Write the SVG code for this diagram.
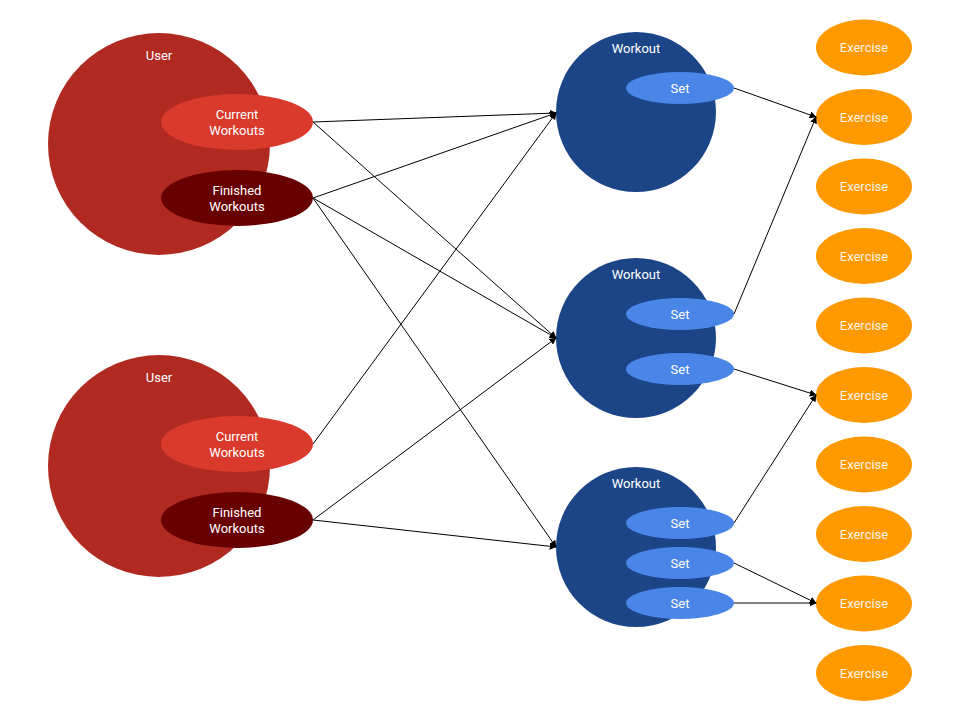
<svg xmlns="http://www.w3.org/2000/svg" width="960" height="720" viewBox="0 0 960 720">
<style>
text{font-family:Roboto,"Liberation Sans",sans-serif;font-size:13px;fill:#ffffff;text-anchor:middle}
.user{fill:#b12a22}
.cur{fill:#d93a2c}
.fin{fill:#690000}
.wk{fill:#1c4587}
.set{fill:#4a86e8}
.ex{fill:#ff9900}
.ex-t{fill:#fdf3e3}
.conn line{stroke:#000;stroke-width:1;marker-end:url(#arr)}
</style>
<defs>
<marker id="arr" viewBox="0 0 10 10" refX="9" refY="5" markerWidth="7" markerHeight="7" orient="auto" markerUnits="userSpaceOnUse">
<path d="M0,0 L10,5 L0,10 z" fill="#000"/>
</marker>
</defs>
<rect width="960" height="720" fill="#fff"/>
<g id="user1">
<circle class="user" cx="159" cy="144" r="111"/>
<text x="159" y="60">User</text>
</g>
<g id="current1">
<ellipse class="cur" cx="237" cy="122" rx="76" ry="28"/>
<text x="237" y="119">Current</text>
<text x="237" y="135">Workouts</text>
</g>
<g id="finished1">
<ellipse class="fin" cx="237" cy="198" rx="76" ry="28"/>
<text x="237" y="195">Finished</text>
<text x="237" y="211">Workouts</text>
</g>
<g id="user2">
<circle class="user" cx="159" cy="466" r="111"/>
<text x="159" y="382">User</text>
</g>
<g id="current2">
<ellipse class="cur" cx="237" cy="444" rx="76" ry="28"/>
<text x="237" y="441">Current</text>
<text x="237" y="457">Workouts</text>
</g>
<g id="finished2">
<ellipse class="fin" cx="237" cy="520" rx="76" ry="28"/>
<text x="237" y="517">Finished</text>
<text x="237" y="533">Workouts</text>
</g>
<g id="workout1">
<circle class="wk" cx="636" cy="112" r="80"/>
<text x="636" y="53">Workout</text>
</g>
<g id="set1">
<ellipse class="set" cx="680" cy="88" rx="54" ry="16"/>
<text x="680" y="93">Set</text>
</g>
<g id="workout2">
<circle class="wk" cx="636" cy="338" r="80"/>
<text x="636" y="279">Workout</text>
</g>
<g id="set2a">
<ellipse class="set" cx="680" cy="314" rx="54" ry="16"/>
<text x="680" y="319">Set</text>
</g>
<g id="set2b">
<ellipse class="set" cx="680" cy="369" rx="54" ry="16"/>
<text x="680" y="374">Set</text>
</g>
<g id="workout3">
<circle class="wk" cx="636" cy="547" r="80"/>
<text x="636" y="488">Workout</text>
</g>
<g id="set3a">
<ellipse class="set" cx="680" cy="523" rx="54" ry="16"/>
<text x="680" y="528">Set</text>
</g>
<g id="set3b">
<ellipse class="set" cx="680" cy="563" rx="54" ry="16"/>
<text x="680" y="568">Set</text>
</g>
<g id="set3c">
<ellipse class="set" cx="680" cy="603" rx="54" ry="16"/>
<text x="680" y="608">Set</text>
</g>
<g id="exercise1"><ellipse class="ex" cx="864" cy="47.5" rx="48" ry="28"/><text class="ex-t" x="864" y="52">Exercise</text></g>
<g id="exercise2"><ellipse class="ex" cx="864" cy="117" rx="48" ry="28"/><text class="ex-t" x="864" y="122">Exercise</text></g>
<g id="exercise3"><ellipse class="ex" cx="864" cy="186.5" rx="48" ry="28"/><text class="ex-t" x="864" y="191">Exercise</text></g>
<g id="exercise4"><ellipse class="ex" cx="864" cy="256" rx="48" ry="28"/><text class="ex-t" x="864" y="261">Exercise</text></g>
<g id="exercise5"><ellipse class="ex" cx="864" cy="325.5" rx="48" ry="28"/><text class="ex-t" x="864" y="330">Exercise</text></g>
<g id="exercise6"><ellipse class="ex" cx="864" cy="395" rx="48" ry="28"/><text class="ex-t" x="864" y="400">Exercise</text></g>
<g id="exercise7"><ellipse class="ex" cx="864" cy="464.5" rx="48" ry="28"/><text class="ex-t" x="864" y="469">Exercise</text></g>
<g id="exercise8"><ellipse class="ex" cx="864" cy="534" rx="48" ry="28"/><text class="ex-t" x="864" y="539">Exercise</text></g>
<g id="exercise9"><ellipse class="ex" cx="864" cy="603.5" rx="48" ry="28"/><text class="ex-t" x="864" y="608">Exercise</text></g>
<g id="exercise10"><ellipse class="ex" cx="864" cy="673" rx="48" ry="28"/><text class="ex-t" x="864" y="678">Exercise</text></g>
<g id="connectors" class="conn">
<line x1="313" y1="122" x2="556" y2="113"/>
<line x1="313" y1="122" x2="556" y2="338"/>
<line x1="313" y1="198" x2="556" y2="113"/>
<line x1="313" y1="198" x2="556" y2="338"/>
<line x1="313" y1="198" x2="556" y2="547"/>
<line x1="313" y1="444" x2="556" y2="113"/>
<line x1="313" y1="520" x2="556" y2="338"/>
<line x1="313" y1="520" x2="556" y2="547"/>
<line x1="734" y1="88" x2="816" y2="117"/>
<line x1="734" y1="314" x2="816" y2="117"/>
<line x1="734" y1="369" x2="816" y2="395"/>
<line x1="734" y1="523" x2="816" y2="395"/>
<line x1="734" y1="563" x2="816" y2="603"/>
<line x1="734" y1="603" x2="816" y2="603"/>
</g>
</svg>
